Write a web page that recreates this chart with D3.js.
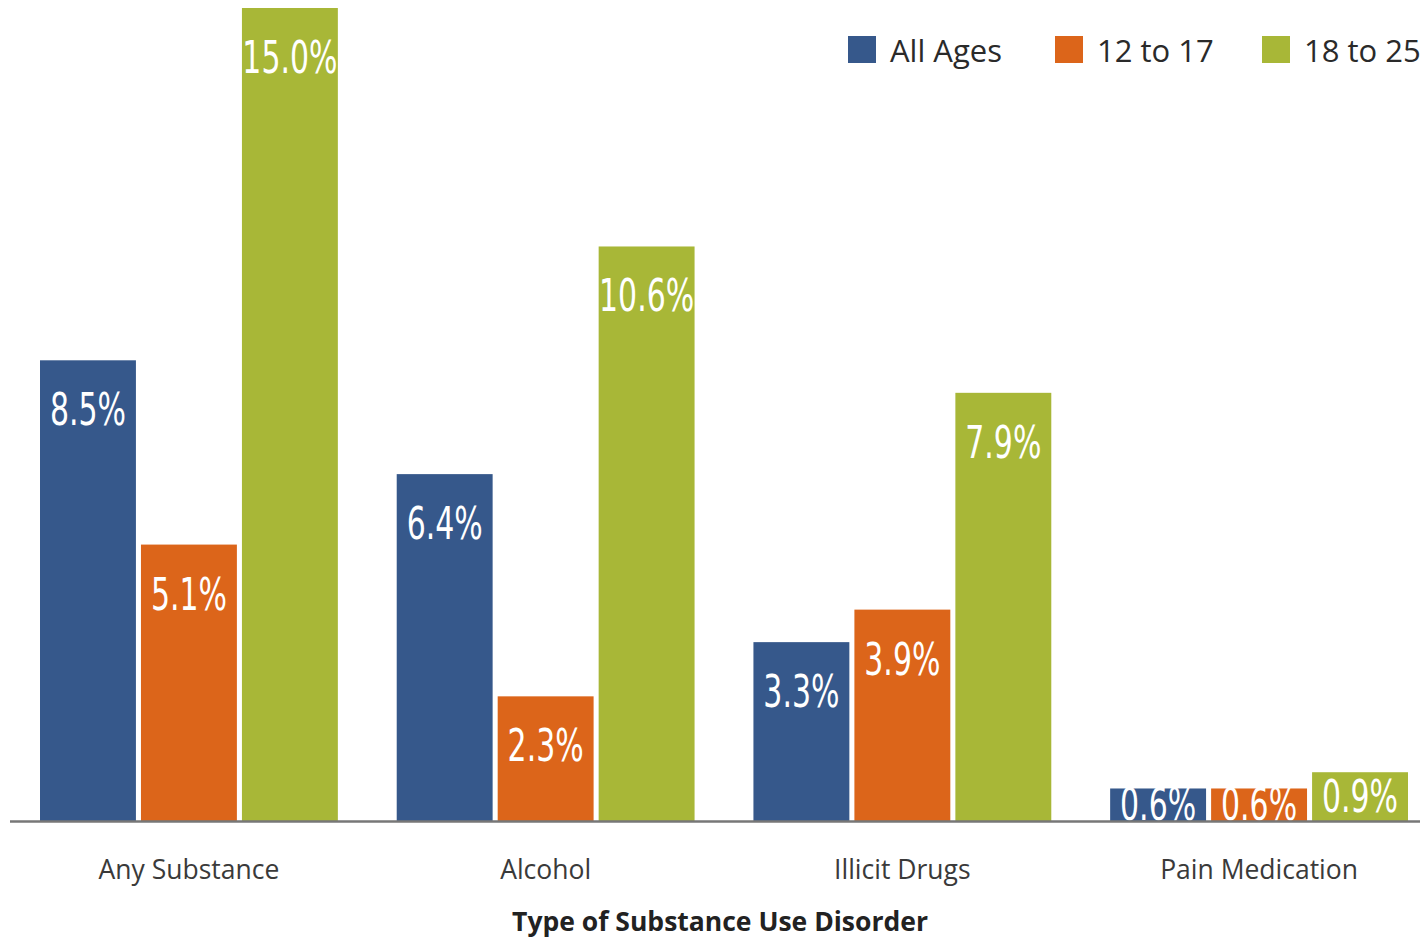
<!DOCTYPE html>
<html>
<head>
<meta charset="utf-8">
<script src="https://cdn.jsdelivr.net/npm/d3@7.9.0/dist/d3.min.js"></script>
<style>
  html, body { margin: 0; padding: 0; background: #fff; }
  svg { display: block; }
  .cat { font-family: "Open Sans", "Noto Sans", sans-serif; font-size: 26.5px; fill: #3a3a3a; }
  .title { font-family: "Open Sans", "Noto Sans", sans-serif; font-size: 26.5px; font-weight: 700; fill: #222; }
  .legend text { font-family: "Open Sans", "Noto Sans", sans-serif; font-size: 31px; fill: #2a2a2a; }
  .val { font-family: "DejaVu Sans Condensed", "DejaVu Sans", sans-serif; font-stretch: condensed; font-size: 45px; fill: #fff; }
</style>
</head>
<body>
<div id="chart"></div>
<script>
const width = 1420;
const height = 938;

const categories = ['Any Substance', 'Alcohol', 'Illicit Drugs', 'Pain Medication'];
const series = ['All Ages', '12 to 17', '18 to 25'];
const colors = ['#36588b', '#dc651a', '#a8b737'];
const allAges = [8.5, 6.4, 3.3, 0.6];
const teens = [5.1, 2.3, 3.9, 0.6];
const youngAdults = [15.0, 10.6, 7.9, 0.9];
const values = [allAges, teens, youngAdults];

const baseline = 821;

const svg = d3.select('#chart').append('svg')
  .attr('width', width)
  .attr('height', height);

const x0 = d3.scaleBand()
  .domain(categories)
  .range([40, 1408])
  .paddingInner(0.165);

const x1 = d3.scaleBand()
  .domain(series)
  .range([0, x0.bandwidth()])
  .paddingInner(0.05);

const y = d3.scaleLinear()
  .domain([0, 15])
  .range([baseline, 8]);

const color = d3.scaleOrdinal().domain(series).range(colors);

// flatten into rows for drawing
const rows = [];
categories.forEach((c, i) => {
  series.forEach((s, j) => {
    rows.push({ cat: c, series: s, value: values[j][i] });
  });
});

const bars = svg.append('g').attr('class', 'bars');

bars.selectAll('rect')
  .data(rows)
  .enter()
  .append('rect')
  .attr('x', d => x0(d.cat) + x1(d.series))
  .attr('y', d => y(d.value))
  .attr('width', x1.bandwidth())
  .attr('height', d => baseline - y(d.value))
  .attr('fill', d => color(d.series));

// labels squeezed horizontally to mimic a condensed face
bars.selectAll('text')
  .data(rows)
  .enter()
  .append('text')
  .attr('class', 'val')
  .attr('text-anchor', 'middle')
  .attr('transform', d => {
    const h = baseline - y(d.value);
    const cx = x0(d.cat) + x1(d.series) + x1.bandwidth() / 2;
    const ty = h > 100 ? y(d.value) + 65 : y(d.value) + h / 2 + 15;
    return `translate(${cx},${ty}) scale(0.74,1)`;
  })
  .text(d => d.value.toFixed(1) + '%');

// baseline axis line
svg.append('line')
  .attr('x1', 10)
  .attr('x2', width)
  .attr('y1', baseline + 0.5)
  .attr('y2', baseline + 0.5)
  .attr('stroke', '#777')
  .attr('stroke-width', 2.5);

svg.append('g')
  .selectAll('text')
  .data(categories)
  .enter()
  .append('text')
  .attr('class', 'cat')
  .attr('text-anchor', 'middle')
  .attr('x', d => x0(d) + x0.bandwidth() / 2)
  .attr('y', 879)
  .text(d => d);

svg.append('text')
  .attr('class', 'title')
  .attr('text-anchor', 'middle')
  .attr('x', 720)
  .attr('y', 931)
  .text('Type of Substance Use Disorder');

// legend
const legendX = [848, 1055, 1262];
const legend = svg.append('g').attr('class', 'legend');
const item = legend.selectAll('g')
  .data(series)
  .enter()
  .append('g')
  .attr('transform', (d, i) => `translate(${legendX[i]}, 36)`);

item.append('rect')
  .attr('width', 28)
  .attr('height', 27)
  .attr('fill', d => color(d));

item.append('text')
  .attr('x', 42)
  .attr('y', 26)
  .text(d => d);
</script>
</body>
</html>
